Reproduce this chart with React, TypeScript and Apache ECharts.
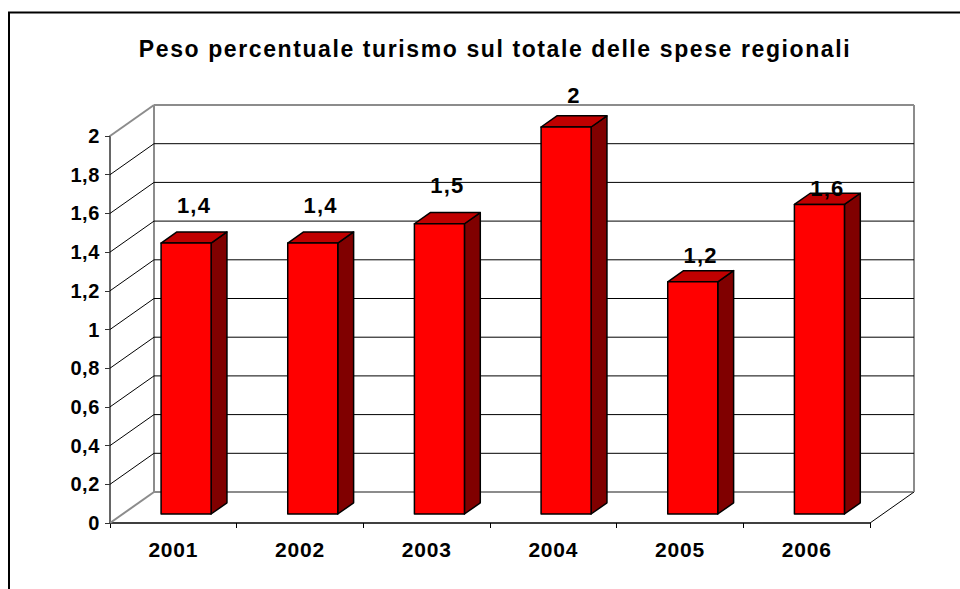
import React, { useEffect, useRef } from "react";
import * as echarts from "echarts";

const categories = ["2001", "2002", "2003", "2004", "2005", "2006"];
const values = [1.4, 1.4, 1.5, 2, 1.2, 1.6];
const yTicks = [0, 0.2, 0.4, 0.6, 0.8, 1, 1.2, 1.4, 1.6, 1.8, 2];
const titleText = "Peso percentuale turismo sul totale delle spese regionali";

// styling: upward lift of each data label above its bar (Excel 3D placement)
const labelLift = [38, 38, 38, 32, 26, 16];

const FONT = "'Liberation Sans', Arial, sans-serif";
const DX = 44; // depth offset x
const DY = -31; // depth offset y
const F0 = 0.29; // bar front depth fraction
const F1 = 0.65; // bar back depth fraction

// letter spacing per font size (the reference text is drawn with loose spacing)
const spacingBySize: Record<string, string> = {
  "23px": "1.6px",
  "22px": "1.2px",
  "21px": "0.8px",
  "20px": "0.6px",
};

const fmt = (v: number) => String(v).replace(".", ",");

export default function App() {
  const ref = useRef<HTMLDivElement>(null);
  useEffect(() => {
    if (!ref.current) return;
    const el = ref.current;
    const chart = echarts.init(el, undefined, { renderer: "svg" });
    const maxV = yTicks[yTicks.length - 1];

    const wallRender = (params: any, api: any) => {
      const cs = params.coordSys;
      const x0 = cs.x;
      const x1 = cs.x + cs.width;
      const v = api.value(1);
      const y = api.coord([0, v])[1];
      const children: any[] = [];
      const gray = { stroke: "#8c8c8c", lineWidth: 2 };
      const thin = { stroke: "#000", lineWidth: 1 };
      if (v === 0) {
        children.push({ type: "line", shape: { x1: x0, y1: y, x2: x0 + DX, y2: y + DY }, style: gray });
        children.push({ type: "line", shape: { x1: x0 + DX, y1: y + DY, x2: x1 + DX, y2: y + DY }, style: gray });
        children.push({ type: "line", shape: { x1: x1, y1: y, x2: x1 + DX, y2: y + DY }, style: thin });
        const yTop = api.coord([0, maxV])[1];
        children.push({ type: "line", shape: { x1: x0 + DX, y1: yTop + DY, x2: x0 + DX, y2: y + DY }, style: gray });
        children.push({ type: "line", shape: { x1: x1 + DX, y1: yTop + DY, x2: x1 + DX, y2: y + DY }, style: gray });
      } else if (v === maxV) {
        children.push({ type: "line", shape: { x1: x0, y1: y, x2: x0 + DX, y2: y + DY }, style: gray });
        children.push({ type: "line", shape: { x1: x0 + DX, y1: y + DY, x2: x1 + DX, y2: y + DY }, style: gray });
      } else {
        children.push({ type: "line", shape: { x1: x0, y1: y, x2: x0 + DX, y2: y + DY }, style: thin });
        children.push({ type: "line", shape: { x1: x0 + DX, y1: y + DY, x2: x1 + DX, y2: y + DY }, style: thin });
      }
      return { type: "group", children };
    };

    const barRender = (params: any, api: any) => {
      const i = api.value(0);
      const v = api.value(1);
      const base = api.coord([i, 0]);
      const top = api.coord([i, v]);
      const band = api.size([1, 0])[0];
      const w = band * 0.395;
      const cx = base[0] + F0 * DX;
      const L = cx - w / 2;
      const R = cx + w / 2;
      const B = base[1] + F0 * DY;
      const T = top[1] + F0 * DY;
      const sdx = (F1 - F0) * DX;
      const sdy = (F1 - F0) * DY;
      const edge = { stroke: "#000", lineWidth: 1.5, lineJoin: "round" };
      return {
        type: "group",
        children: [
          {
            type: "polygon",
            shape: { points: [[R, T], [R + sdx, T + sdy], [R + sdx, B + sdy], [R, B]] },
            style: { fill: "#800000", ...edge },
          },
          {
            type: "polygon",
            shape: { points: [[L, T], [R, T], [R + sdx, T + sdy], [L + sdx, T + sdy]] },
            style: { fill: "#C00000", ...edge },
          },
          {
            type: "rect",
            shape: { x: L, y: T, width: w, height: B - T },
            style: { fill: "#FF0000", ...edge },
          },
          {
            type: "text",
            x: cx + sdx / 2,
            y: T - labelLift[params.dataIndex],
            style: {
              text: fmt(v),
              fill: "#000",
              font: `bold 22px ${FONT}`,
              align: "center",
              verticalAlign: "middle",
            },
          },
        ],
      };
    };

    chart.setOption({
      animation: false,
      backgroundColor: "#fff",
      title: {
        text: titleText,
        left: 490,
        textAlign: "center",
        top: 32,
        textStyle: { fontFamily: FONT, fontWeight: "bold", fontSize: 23, color: "#000" },
      },
      graphic: [
        {
          type: "rect",
          shape: { x: 9, y: 12.5, width: 1000, height: 1000 },
          style: { fill: "none", stroke: "#000", lineWidth: 2 },
          silent: true,
        },
      ],
      grid: { left: 110, top: 136, width: 760, height: 387 },
      xAxis: {
        type: "category",
        data: categories,
        boundaryGap: true,
        axisLine: { lineStyle: { color: "#000", width: 1.5 } },
        axisTick: { show: true, length: 5, lineStyle: { color: "#000" } },
        axisLabel: { color: "#000", fontFamily: FONT, fontWeight: "bold", fontSize: 21, margin: 16 },
        splitLine: { show: false },
      },
      yAxis: {
        type: "value",
        min: 0,
        max: 2,
        interval: 0.2,
        axisLine: { show: true, lineStyle: { color: "#333", width: 1.5 } },
        axisTick: { show: true, length: 5, lineStyle: { color: "#333" } },
        axisLabel: {
          color: "#000",
          fontFamily: FONT,
          fontWeight: "bold",
          fontSize: 20,
          margin: 10,
          formatter: (v: number) => fmt(Math.round(v * 10) / 10),
        },
        splitLine: { show: false },
      },
      series: [
        {
          type: "custom",
          renderItem: wallRender,
          data: yTicks.map((t) => [0, t]),
          z: 1,
          silent: true,
        },
        {
          type: "custom",
          renderItem: barRender,
          data: values.map((v, i) => [i, v]),
          z: 3,
          silent: true,
        },
      ],
    });

    const applySpacing = () => {
      el.querySelectorAll("text").forEach((t) => {
        const size = getComputedStyle(t).fontSize;
        const sp = spacingBySize[size];
        if (sp) t.setAttribute("letter-spacing", sp);
      });
    };
    applySpacing();
    chart.on("finished", applySpacing);

    return () => chart.dispose();
  }, []);
  return (
    <div
      ref={ref}
      style={{ position: "absolute", left: 0, top: 0, width: 960, height: 589 }}
    />
  );
}
